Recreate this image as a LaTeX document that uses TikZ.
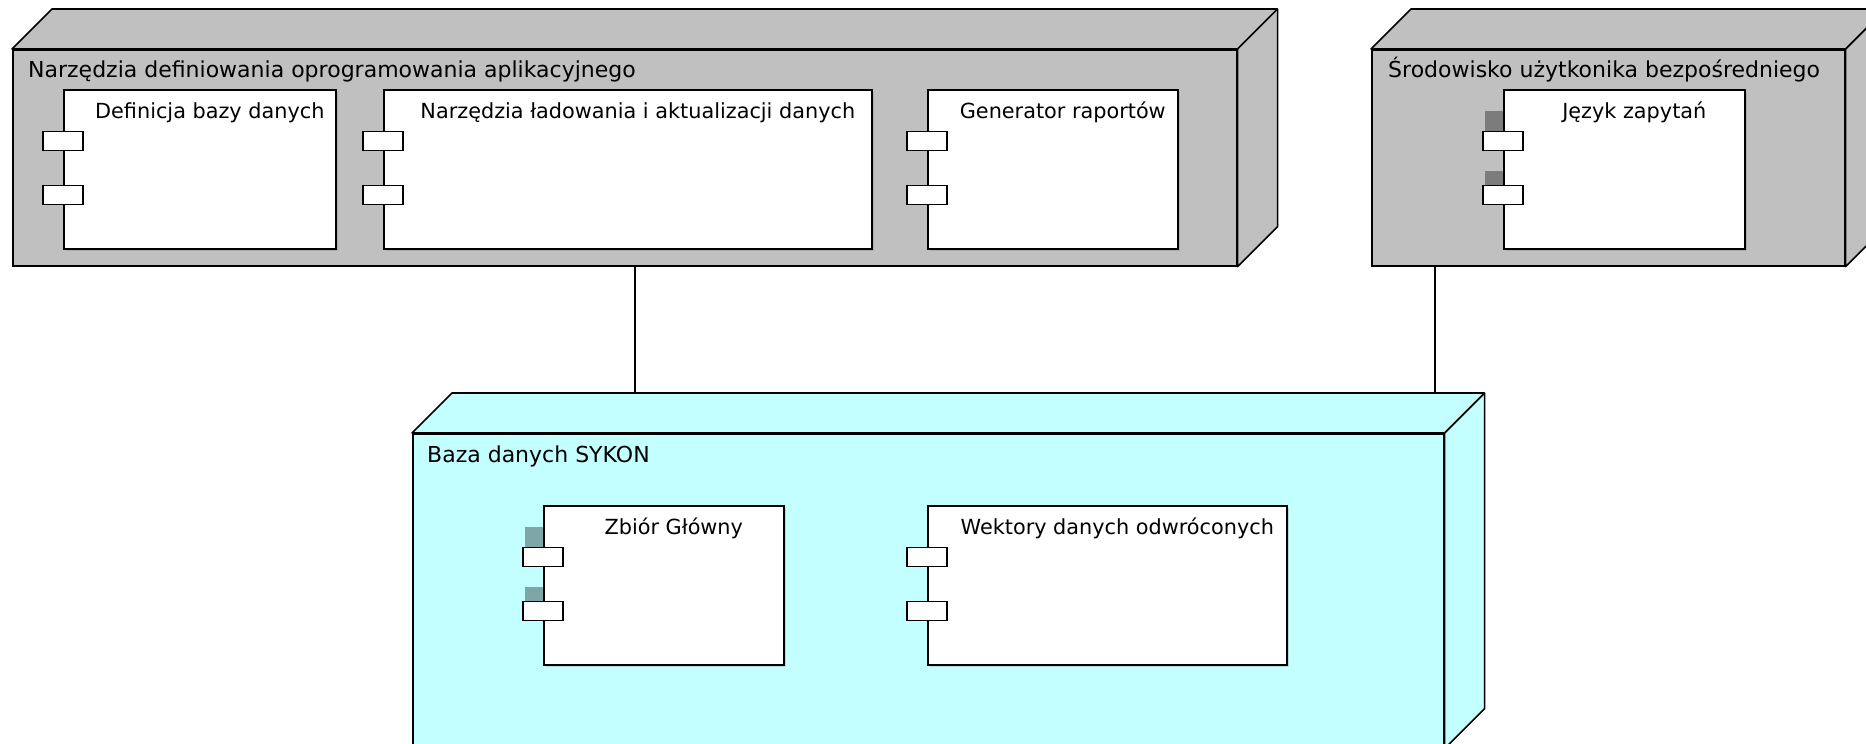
\documentclass[tikz,border=0pt]{standalone}
\usepackage{fontspec}
\setmainfont{DejaVu Sans}
\usetikzlibrary{shadows}

\definecolor{nodegray}{HTML}{C0C0C0}
\definecolor{dbcyan}{HTML}{C4FFFF}

\begin{document}
\begin{tikzpicture}[
    x=1pt, y=-1pt,
    device/.style={rectangle, draw, line width=1.6pt, inner sep=0pt, anchor=north west},
    comp/.style={rectangle, draw, fill=white, line width=1.6pt, inner sep=0pt, anchor=north west,
                 minimum height=159pt,
                 drop shadow={shadow xshift=2pt, shadow yshift=-2pt, opacity=.3}},
    port/.style={rectangle, draw, fill=white, line width=1.4pt, inner sep=0pt,
                 minimum width=40pt, minimum height=19pt},
    title/.style={anchor=base west, inner sep=0pt, font=\fontsize{22}{26}\selectfont},
    lbl/.style={anchor=base, inner sep=0pt, font=\fontsize{20.8}{25}\selectfont},
    portshade/.style={fill=black, fill opacity=.35},
    link/.style={line width=1.4pt}
]
    \useasboundingbox (0,0) rectangle (1866,744);
    \clip (0,0) rectangle (1866,744);

    % Application tools
    \node[device, fill=nodegray, minimum width=1224pt, minimum height=216pt] (tools) at (12,49) {};
    \node[title] (toolsT) at ([shift={(16,28)}]tools.north west)
        {Narzędzia definiowania oprogramowania aplikacyjnego};

    % End user environment
    \node[device, fill=nodegray, minimum width=473pt, minimum height=216pt] (env) at (1371,49) {};
    \node[title] (envT) at ([shift={(17,28)}]env.north west)
        {Środowisko użytkonika bezpośredniego};

    % Database
    \node[device, fill=dbcyan, minimum width=1031pt, minimum height=314pt] (db) at (412,433) {};
    \node[title] (dbT) at ([shift={(15,29)}]db.north west) {Baza danych SYKON};

    % 3D faces of the devices
    \foreach \n/\col in {tools/nodegray, env/nodegray, db/dbcyan} {
        \draw[line width=1.6pt, fill=\col, line join=round]
            (\n.north west) -- ++(40,-40) -- ([shift={(40,-40)}]\n.north east)
            -- ([shift={(40,-40)}]\n.south east) -- (\n.south east) -- (\n.north east) -- cycle;
        \draw[line width=1.6pt] (\n.north east) -- ++(40,-40);
    }

    % Components
    \node[comp, minimum width=272pt] (c1) at (63,89)  {};
    \node[comp, minimum width=488pt] (c2) at (383,89) {};
    \node[comp, minimum width=250pt] (c3) at (927,89) {};
    \node[comp, minimum width=241pt] (c4) at (1503,89) {};
    \node[comp, minimum width=240pt] (c5) at (543,505) {};
    \node[comp, minimum width=359pt] (c6) at (927,505) {};

    \node[lbl] (c1T) at ([shift={(10,29)}]c1.north) {Definicja bazy danych};
    \node[lbl] (c2T) at ([shift={(10,29)}]c2.north) {Narzędzia ładowania i aktualizacji danych};
    \node[lbl] (c3T) at ([shift={(10,29)}]c3.north) {Generator raportów};
    \node[lbl] (c4T) at ([shift={(10,29)}]c4.north) {Język zapytań};
    \node[lbl] (c5T) at ([shift={(10,29)}]c5.north) {Zbiór Główny};
    \node[lbl] (c6T) at ([shift={(10,29)}]c6.north) {Wektory danych odwróconych};

    % dark marks above some ports
    \foreach \c in {c4,c5} {
        \fill[portshade] ([shift={(-18,22)}]\c.north west) rectangle ++(18,20);
        \fill[portshade] ([shift={(-18,82)}]\c.north west) rectangle ++(18,15);
    }

    % Ports
    \foreach \c in {c1,c2,c3,c4,c5,c6} {
        \node[port] (\c-p1) at ([shift={(0,52)}]\c.north west) {};
        \node[port] (\c-p2) at ([shift={(0,106)}]\c.north west) {};
    }

    % Links to the database
    \coordinate (dbin1) at ([shift={(223,-40)}]db.north west);
    \coordinate (dbin2) at ([shift={(1023,-40)}]db.north west);
    \draw[link] (dbin1 |- tools.south) -- (dbin1);
    \draw[link] (dbin2 |- env.south) -- (dbin2);

\end{tikzpicture}
\end{document}
